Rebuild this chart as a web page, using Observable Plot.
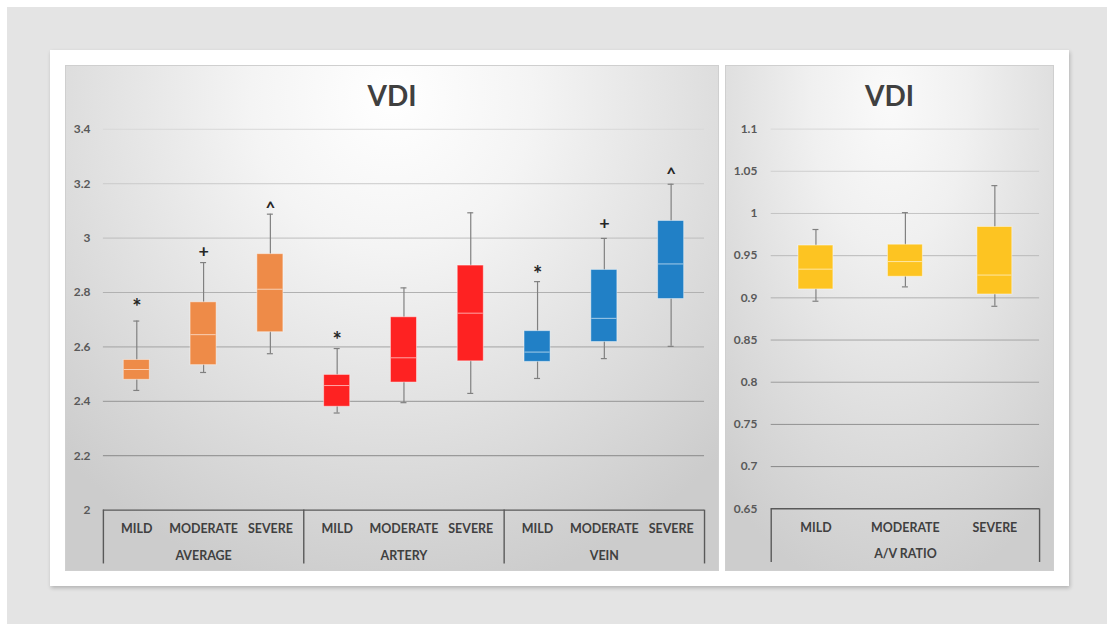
<!DOCTYPE html>
<html>
<head>
<meta charset="utf-8">
<script src="https://cdn.jsdelivr.net/npm/d3@7"></script>
<script src="https://cdn.jsdelivr.net/npm/@observablehq/plot@0.6"></script>
<style>
  html, body { margin: 0; padding: 0; background: #fff; }
  body { width: 1107px; height: 624px; position: relative; overflow: hidden; font-family: Lato, "Open Sans", sans-serif; }
  #backdrop { position: absolute; left: 7px; top: 7px; width: 1100px; height: 617px; background: #e4e4e4; }
  #card { position: absolute; left: 50px; top: 50px; width: 1019px; height: 536px; background: #fff;
          box-shadow: 1px 2px 4px rgba(0,0,0,0.22); }
  .panel { position: absolute; top: 65px; height: 506px; box-sizing: border-box; border: 1px solid #cfcfcf; }
  #left { left: 65px; width: 654px;
          background: radial-gradient(ellipse 72% 100% at 50% 6%, #ffffff 0%, #f4f4f4 30%, #e0e0e0 65%, #cccccc 100%); }
  #right { left: 725px; width: 329px;
          background: radial-gradient(ellipse 80% 100% at 50% 6%, #fafafa 0%, #f0f0f0 30%, #dedede 65%, #cdcdcd 100%); }
  .title { position: absolute; left: 0; right: 0; top: 12px; text-align: center; font-weight: 700;
           font-size: 28px; color: #404040; font-family: Lato, sans-serif; }
  .panel svg { position: absolute; left: -1px; top: -1px; }
</style>
</head>
<body>
<div id="backdrop"></div>
<div id="card"></div>
<div id="left" class="panel"><div class="title">VDI</div></div>
<div id="right" class="panel"><div class="title">VDI</div></div>
<script>
// VDI by vessel group and severity (box: Q1–Q3, line: median, whiskers: min–max)
const vdiGroups = ["AVERAGE", "ARTERY", "VEIN"];
const severities = ["MILD", "MODERATE", "SEVERE"];
const vdiMin    = [2.440, 2.506, 2.575, 2.357, 2.395, 2.429, 2.484, 2.557, 2.602];
const vdiQ1     = [2.479, 2.533, 2.654, 2.380, 2.469, 2.547, 2.545, 2.618, 2.776];
const vdiMedian = [2.517, 2.645, 2.812, 2.458, 2.560, 2.724, 2.581, 2.705, 2.905];
const vdiQ3     = [2.552, 2.764, 2.941, 2.497, 2.709, 2.899, 2.658, 2.883, 3.063];
const vdiMax    = [2.695, 2.910, 3.088, 2.594, 2.817, 3.093, 2.840, 2.999, 3.198];
// significance symbols and where they sit
const vdiMarks  = ["*", "+", "^", "*", "", "", "*", "+", "^"];
const vdiMarkY  = [2.765, 2.952, 3.123, 2.643, null, null, 2.887, 3.053, 3.247];
const vdiTicks  = [2, 2.2, 2.4, 2.6, 2.8, 3, 3.2, 3.4];

// A/V ratio
const avGroup   = "A/V RATIO";
const avMin     = [0.896, 0.913, 0.890];
const avQ1      = [0.910, 0.925, 0.904];
const avMedian  = [0.934, 0.943, 0.927];
const avQ3      = [0.962, 0.963, 0.984];
const avMax     = [0.981, 1.001, 1.033];
const avTicks   = [0.65, 0.7, 0.75, 0.8, 0.85, 0.9, 0.95, 1, 1.05, 1.1];

const groupColors = {AVERAGE: "#ee8b48", ARTERY: "#fe2222", VEIN: "#2180c6", "A/V RATIO": "#fdc422"};

function buildRows(groups, mins, q1s, meds, q3s, maxs, marks, markYs) {
  const rows = [];
  groups.forEach((g, gi) => severities.forEach((s, si) => {
    const i = gi * severities.length + si;
    rows.push({key: g + " " + s, group: g, severity: s,
      min: mins[i], q1: q1s[i], median: meds[i], q3: q3s[i], max: maxs[i],
      mark: marks ? marks[i] : "", markY: markYs ? markYs[i] : null});
  }));
  return rows;
}

function boxChart({rows, groups, ticks, width, height, marginLeft, marginRight, marginTop, marginBottom, boxFrac, tickPad}) {
  const keys = rows.map(d => d.key);
  const step = (width - marginLeft - marginRight) / keys.length;
  const boxInset = step * (1 - boxFrac) / 2;
  const capInset = (step - 6) / 2;
  const frameH = height - marginTop - marginBottom;
  const yMin = ticks[0], yMax = ticks[ticks.length - 1];
  const gridColor = v => d3.interpolateRgb("#d8d8d8", "#7c7c7c")((yMax - v) / (yMax - yMin));
  const groupFirst = groups.map(g => rows.find(d => d.group === g).key);
  const groupMid = groups.map(g => rows.filter(d => d.group === g)[1].key);
  const withMarks = rows.filter(d => d.mark);
  return Plot.plot({
    width, height, marginLeft, marginRight, marginTop, marginBottom,
    style: {background: "transparent", overflow: "visible", fontFamily: "Lato, sans-serif",
            fontWeight: "700", fontSize: "12px", color: "#595959"},
    x: {type: "band", domain: keys, padding: 0, axis: null},
    y: {domain: [yMin, yMax], ticks, tickSize: 0, tickPadding: tickPad, tickFormat: d => String(d), label: null},
    color: {type: "identity"},
    marks: [
      Plot.ruleY(ticks.slice(1), {y: d => d, stroke: gridColor, strokeWidth: 1}),
      Plot.ruleY([yMin], {stroke: "#595959", strokeWidth: 1.4}),
      Plot.ruleX(groupFirst, {x: d => d, dx: -step / 2, insetTop: frameH, insetBottom: -54, stroke: "#595959", strokeWidth: 1.4}),
      Plot.ruleX([keys[keys.length - 1]], {x: d => d, dx: step / 2, insetTop: frameH, insetBottom: -54, stroke: "#595959", strokeWidth: 1.4}),
      Plot.text(rows, {x: "key", text: "severity", frameAnchor: "bottom", lineAnchor: "middle", dy: 19,
        fontSize: 12.5, fill: "#404040"}),
      Plot.text(groupMid, {x: d => d, text: d => rows.find(r => r.key === d).group, frameAnchor: "bottom",
        lineAnchor: "middle", dy: 46, fontSize: 12.5, fill: "#404040"}),
      Plot.ruleX(rows, {x: "key", y1: "min", y2: "max", stroke: "#808080", strokeWidth: 1.2}),
      Plot.tickY(rows, {x: "key", y: "min", stroke: "#808080", strokeWidth: 1.2, insetLeft: capInset, insetRight: capInset}),
      Plot.tickY(rows, {x: "key", y: "max", stroke: "#808080", strokeWidth: 1.2, insetLeft: capInset, insetRight: capInset}),
      Plot.barY(rows, {x: "key", y1: "q1", y2: "q3", fill: d => groupColors[d.group],
        stroke: "#ffffff", strokeOpacity: 0.45, strokeWidth: 1, insetLeft: boxInset, insetRight: boxInset}),
      Plot.tickY(rows, {x: "key", y: "median", stroke: "#ffffff", strokeOpacity: 0.6, strokeWidth: 1,
        insetLeft: boxInset + 0.5, insetRight: boxInset + 0.5}),
      Plot.text(withMarks.filter(d => d.mark === "+"), {x: "key", y: "markY", text: "mark", fontSize: 18, fill: "#262626"}),
      Plot.text(withMarks.filter(d => d.mark === "*"), {x: "key", y: "markY", text: "mark", fontSize: 22, dy: 6, fill: "#262626"}),
      Plot.text(withMarks.filter(d => d.mark === "^"), {x: "key", y: "markY", text: "mark", fontSize: 17, dy: 4, fill: "#262626"})
    ]
  });
}

const vdiRows = buildRows(vdiGroups, vdiMin, vdiQ1, vdiMedian, vdiQ3, vdiMax, vdiMarks, vdiMarkY);
const avRows = buildRows([avGroup], avMin, avQ1, avMedian, avQ3, avMax, null, null);

document.getElementById("left").appendChild(boxChart({
  rows: vdiRows, groups: vdiGroups, ticks: vdiTicks,
  width: 654, height: 506, marginLeft: 38, marginRight: 13, marginTop: 64, marginBottom: 60,
  boxFrac: 0.39, tickPad: 13
}));
document.getElementById("right").appendChild(boxChart({
  rows: avRows, groups: [avGroup], ticks: avTicks,
  width: 329, height: 506, marginLeft: 46, marginRight: 13, marginTop: 64, marginBottom: 60,
  boxFrac: 0.39, tickPad: 14
}));
</script>
</body>
</html>
